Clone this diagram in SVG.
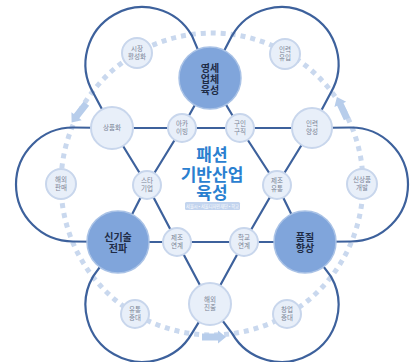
<svg xmlns="http://www.w3.org/2000/svg" width="414" height="362" viewBox="0 0 414 362">
<style>
.ring{fill:none;stroke:#c9d8ee;stroke-width:5;stroke-dasharray:5 5}
.ln{fill:none;stroke:#3d619c;stroke-width:2.2;stroke-linejoin:round}
.big{fill:#80a5db;stroke:#a9c2e6;stroke-width:1.5}
.sm{fill:#e8eff9;stroke:#c8d6ec;stroke-width:2}
.arr{fill:#b7cdeb}
text{font-family:"Noto Sans CJK KR","Noto Sans",sans-serif;text-anchor:middle}
.bl{font-size:10px;font-weight:bold;fill:#1e2b45}
.sl{font-size:6.5px;fill:#7a8496}
.title{font-size:17px;font-weight:bold;fill:#2a80d0}
.sub{font-size:4.2px;fill:#ffffff}
</style>
<rect width="414" height="362" fill="#ffffff"/>
<circle class="ring" cx="212" cy="184" r="151"/>
<g id="connectors">
<path class="ln" d="M112,128 L93.1,92.6 A57,57 0 0 1 191.9,35.6 L210,78"/>
<path class="ln" d="M210,78 L232.1,35.6 A57,57 0 0 1 330.9,92.6 L312,128"/>
<path class="ln" d="M312,128 L351,127.5 A57,57 0 0 1 351,241.5 L305,242"/>
<path class="ln" d="M305,242 L330.9,276.4 A57,57 0 0 1 232.1,333.4 L210,304"/>
<path class="ln" d="M210,304 L191.9,333.4 A57,57 0 0 1 93.1,276.4 L118,242"/>
<path class="ln" d="M118,242 L73,241.5 A57,57 0 0 1 73,127.5 L112,128"/>
<path class="ln" d="M112,128 L312,128"/>
<path class="ln" d="M118,242 L305,242"/>
<path class="ln" d="M210,78 L182,128 L147,185 L118,242"/>
<path class="ln" d="M210,78 L240,128 L277,185 L305,242"/>
<path class="ln" d="M112,128 L147,185 L177,242 L210,304"/>
<path class="ln" d="M312,128 L277,185 L244,242 L210,304"/>
</g>
<g id="arrows">
<polygon class="arr" points="-12,-3.5 4,-3.5 4,-6.5 12,0 4,6.5 4,3.5 -12,3.5" transform="translate(79,113) rotate(128)"/>
<polygon class="arr" points="-12,-3.5 4,-3.5 4,-6.5 12,0 4,6.5 4,3.5 -12,3.5" transform="translate(342,108) rotate(-115)"/>
<polygon class="arr" points="-12,-3.5 4,-3.5 4,-6.5 12,0 4,6.5 4,3.5 -12,3.5" transform="translate(214,337)"/>
</g>
<g id="title">
<text class="title"><tspan x="212" y="160.5">패션</tspan><tspan x="212" y="180.5">기반산업</tspan><tspan x="212" y="199">육성</tspan></text>
<rect x="185" y="202" width="55" height="8" rx="1.5" fill="#c3d4ee"/>
<text class="sub" x="212.5" y="207.5">서울시 • 서울디자인재단 • 학교</text>
</g>
<g id="n-yeongse"><circle class="big" cx="210" cy="78" r="31"/><text class="bl"><tspan x="210" y="71.5">영세</tspan><tspan x="210" y="82.5">업체</tspan><tspan x="210" y="93.5">육성</tspan></text></g>
<g id="n-singisul"><circle class="big" cx="118" cy="242" r="31"/><text class="bl"><tspan x="118" y="241">신기술</tspan><tspan x="118" y="252">전파</tspan></text></g>
<g id="n-pumjil"><circle class="big" cx="305" cy="242" r="31"/><text class="bl"><tspan x="305" y="241">품질</tspan><tspan x="305" y="252">향상</tspan></text></g>
<g id="n-sangpum"><circle class="sm" cx="112" cy="128" r="21"/><text class="sl" x="112" y="130.3">상품화</text></g>
<g id="n-inryeok-yangseong"><circle class="sm" cx="312" cy="128" r="20"/><text class="sl"><tspan x="312" y="126.3">인력</tspan><tspan x="312" y="134.3">양성</tspan></text></g>
<g id="n-haeoe-jinchul"><circle class="sm" cx="210" cy="304" r="21"/><text class="sl"><tspan x="210" y="302.3">해외</tspan><tspan x="210" y="310.3">진출</tspan></text></g>
<g id="n-archiving"><circle class="sm" cx="182" cy="128" r="14"/><text class="sl"><tspan x="182" y="126.3">아카</tspan><tspan x="182" y="134.3">이빙</tspan></text></g>
<g id="n-guin"><circle class="sm" cx="240" cy="128" r="14"/><text class="sl"><tspan x="240" y="126.3">구인</tspan><tspan x="240" y="134.3">구직</tspan></text></g>
<g id="n-star"><circle class="sm" cx="147" cy="185" r="14"/><text class="sl"><tspan x="147" y="183.3">스타</tspan><tspan x="147" y="191.3">기업</tspan></text></g>
<g id="n-jejo-yutong"><circle class="sm" cx="277" cy="185" r="14"/><text class="sl"><tspan x="277" y="183.3">제조</tspan><tspan x="277" y="191.3">유통</tspan></text></g>
<g id="n-jejo-yeongye"><circle class="sm" cx="177" cy="242" r="14"/><text class="sl"><tspan x="177" y="240.3">제조</tspan><tspan x="177" y="248.3">연계</tspan></text></g>
<g id="n-hakgyo"><circle class="sm" cx="244" cy="242" r="14"/><text class="sl"><tspan x="244" y="240.3">학교</tspan><tspan x="244" y="248.3">연계</tspan></text></g>
<g id="n-sijang"><circle class="sm" cx="137" cy="53" r="15"/><text class="sl"><tspan x="137" y="51.3">시장</tspan><tspan x="137" y="59.3">활성화</tspan></text></g>
<g id="n-inryeok-yuip"><circle class="sm" cx="285" cy="54" r="15"/><text class="sl"><tspan x="285" y="52.3">인력</tspan><tspan x="285" y="60.3">유입</tspan></text></g>
<g id="n-sinsangpum"><circle class="sm" cx="362" cy="184" r="15"/><text class="sl"><tspan x="362" y="182.3">신상품</tspan><tspan x="362" y="190.3">개발</tspan></text></g>
<g id="n-changup"><circle class="sm" cx="287" cy="314" r="14"/><text class="sl"><tspan x="287" y="312.3">창업</tspan><tspan x="287" y="320.3">증대</tspan></text></g>
<g id="n-yutong"><circle class="sm" cx="135" cy="314" r="14"/><text class="sl"><tspan x="135" y="312.3">유통</tspan><tspan x="135" y="320.3">증대</tspan></text></g>
<g id="n-haeoe-panmae"><circle class="sm" cx="61" cy="184" r="15"/><text class="sl"><tspan x="61" y="182.3">해외</tspan><tspan x="61" y="190.3">판매</tspan></text></g>
</svg>
